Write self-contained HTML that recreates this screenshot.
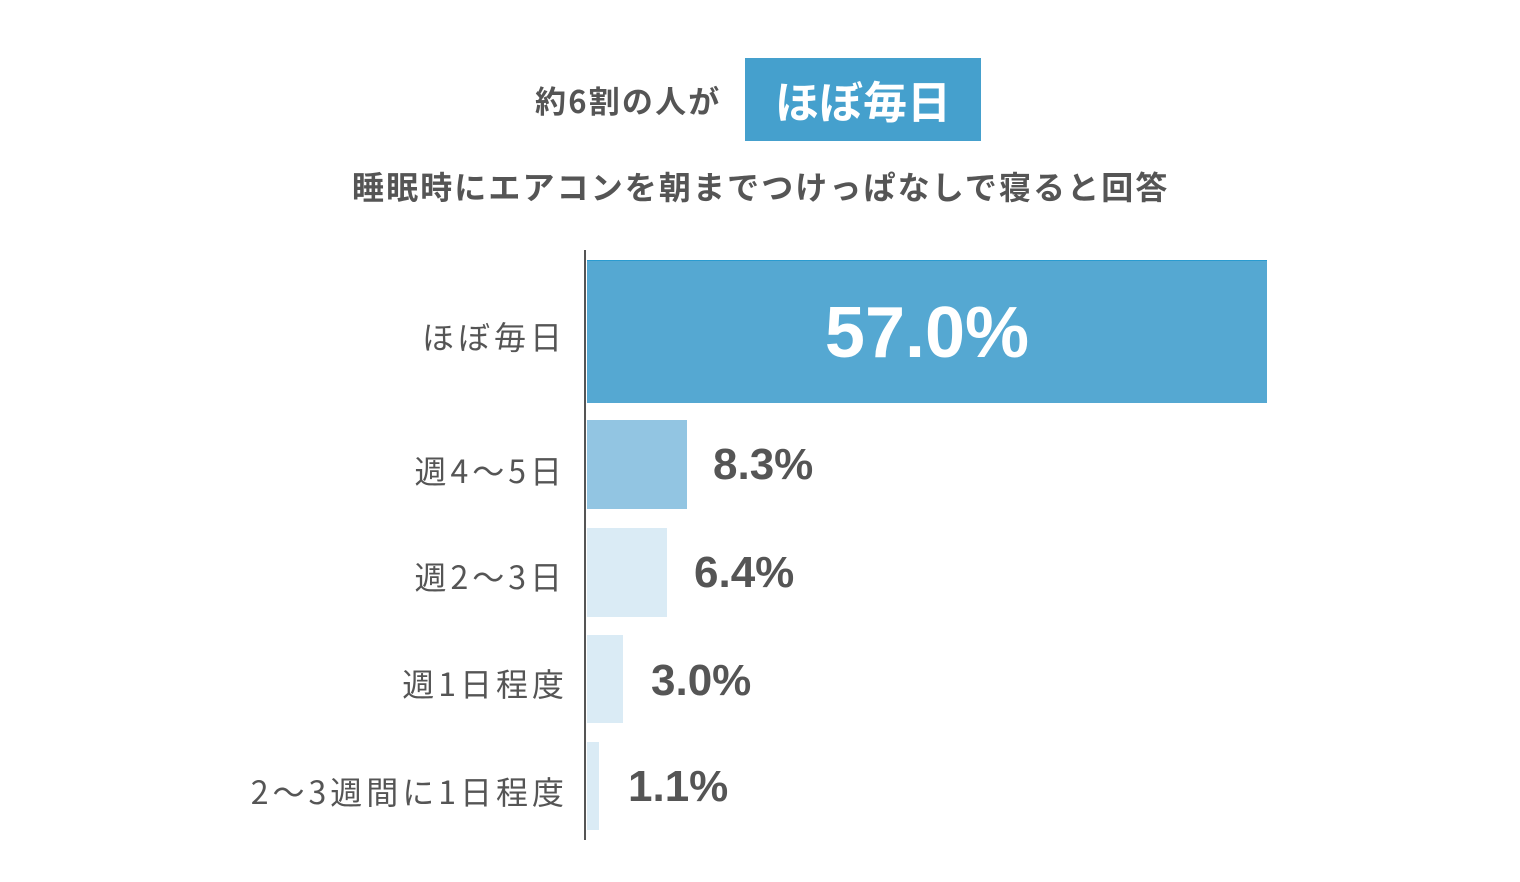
<!DOCTYPE html>
<html><head><meta charset="utf-8"><style>
body{margin:0;width:1520px;height:882px;background:#fff;position:relative;overflow:hidden;font-family:"Noto Sans CJK JP","Liberation Sans",sans-serif;color:#555}
.a{position:absolute;white-space:nowrap}
.lbl{position:absolute;right:954px;font-size:32px;line-height:40px;color:#555;letter-spacing:4px;font-family:"Noto Sans CJK JP",sans-serif}
.val{position:absolute;font-size:44px;font-weight:bold;line-height:50px;color:#555;font-family:"Liberation Sans",sans-serif}
.bar{position:absolute;left:587px}
</style></head><body>
<div class="a" style="left:535px;top:79px;font-size:31px;font-weight:bold;line-height:42px;letter-spacing:2.2px">約6割の人が</div>
<div class="a" style="left:745px;top:58px;width:236px;height:83px;background:#45a0cd;color:#fff;font-size:44px;font-weight:bold;line-height:83px;text-align:center">ほぼ毎日</div>
<div class="a" style="left:352px;top:165px;font-size:32px;font-weight:bold;line-height:42px;letter-spacing:2.1px">睡眠時にエアコンを朝までつけっぱなしで寝ると回答</div>
<div class="a" style="left:584px;top:250px;width:2px;height:590px;background:#555"></div>
<div class="bar" style="top:260px;width:680px;height:142px;background:#55a8d2;border-top:1px solid #2a9bd0"></div>
<div class="a" style="left:587px;width:680px;top:295px;font-size:72px;font-weight:bold;color:#fff;text-align:center;line-height:76px;font-family:'Liberation Sans',sans-serif">57.0%</div>
<div class="bar" style="top:420px;width:100px;height:89px;background:#92c5e2"></div>
<div class="bar" style="top:528px;width:80px;height:89px;background:#daebf5"></div>
<div class="bar" style="top:635px;width:36px;height:88px;background:#daebf5"></div>
<div class="bar" style="top:742px;width:12px;height:88px;background:#daebf5"></div>
<div class="lbl" style="top:316px">ほぼ毎日</div>
<div class="lbl" style="top:450px">週4〜5日</div>
<div class="lbl" style="top:556px">週2〜3日</div>
<div class="lbl" style="top:663px;right:952px">週1日程度</div>
<div class="lbl" style="top:771px;right:952px">2〜3週間に1日程度</div>
<div class="val" style="left:713px;top:440px">8.3%</div>
<div class="val" style="left:694px;top:548px">6.4%</div>
<div class="val" style="left:651px;top:656px">3.0%</div>
<div class="val" style="left:628px;top:762px">1.1%</div>
</body></html>
